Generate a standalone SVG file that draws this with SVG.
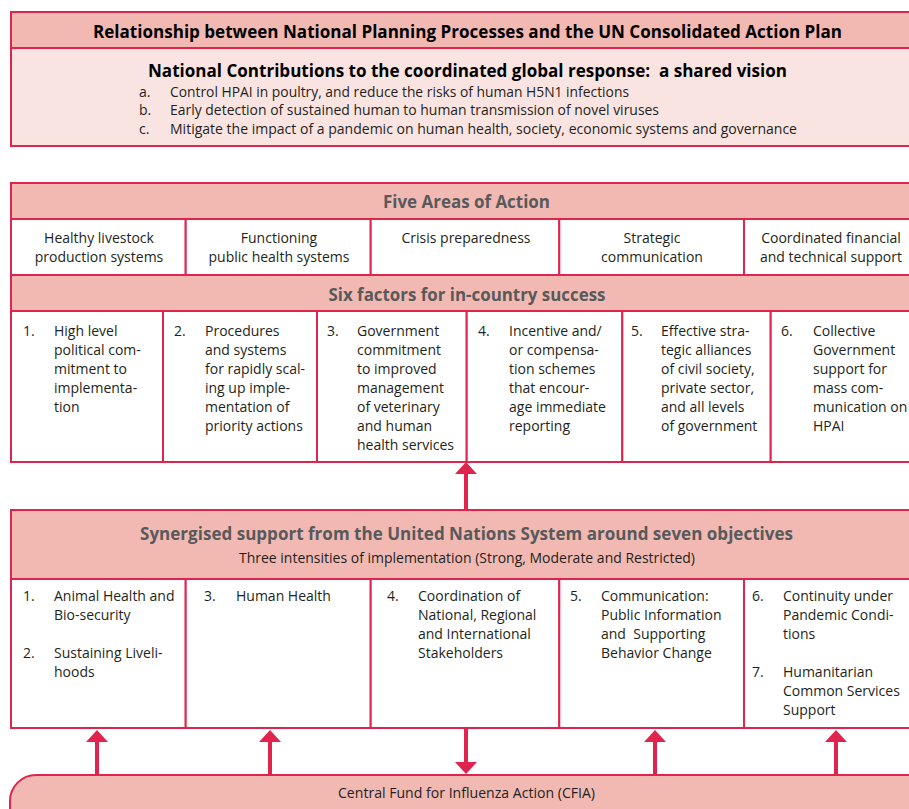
<svg xmlns="http://www.w3.org/2000/svg" width="909" height="809" viewBox="0 0 909 809">
<style>
.bx{stroke:#e0244e;stroke-width:2}
.band{fill:#f2b9b3}
.light{fill:#fae4e2}
.cell{fill:#ffffff}
.t{font-family:"Open Sans","Noto Sans",sans-serif;font-size:14px;fill:#231f20}
.c{text-anchor:middle}
.pre{white-space:pre}
.hb{font-family:"Open Sans","Noto Sans",sans-serif;font-weight:bold;fill:#58595b;font-size:17px;text-anchor:middle}
.kb{font-family:"Open Sans","Noto Sans",sans-serif;font-weight:bold;fill:#000000;text-anchor:middle}
.conn line{stroke:#e0244e;stroke-width:4}
</style>
<defs>
<marker id="ah" viewBox="0 0 12 22" refX="0" refY="11" markerWidth="12" markerHeight="22" markerUnits="userSpaceOnUse" orient="auto">
<path d="M0,0 L12,11 L0,22 z" fill="#e0244e"/>
</marker>
</defs>

<g id="plan-title">
<rect class="bx band" x="11" y="12" width="912" height="36"/>
<text class="kb" x="467.5" y="38" font-size="17" textLength="749" lengthAdjust="spacingAndGlyphs">Relationship between National Planning Processes and the UN Consolidated Action Plan</text>
</g>

<g id="shared-vision">
<rect class="bx light" x="11" y="48" width="912" height="98"/>
<text class="kb pre" x="467.5" y="76.5" font-size="17" textLength="639" lengthAdjust="spacingAndGlyphs">National Contributions to the coordinated global response:  a shared vision</text>
<text class="t" x="139" y="96.5">a.</text>
<text class="t" x="170" y="96.5" textLength="459" lengthAdjust="spacingAndGlyphs">Control HPAI in poultry, and reduce the risks of human H5N1 infections</text>
<text class="t" x="139" y="115">b.</text>
<text class="t" x="170" y="115" textLength="489" lengthAdjust="spacingAndGlyphs">Early detection of sustained human to human transmission of novel viruses</text>
<text class="t" x="139" y="133.5">c.</text>
<text class="t" x="170" y="133.5" textLength="627" lengthAdjust="spacingAndGlyphs">Mitigate the impact of a pandemic on human health, society, economic systems and governance</text>
</g>

<g id="five-areas">
<rect class="bx band" x="11" y="183" width="912" height="36"/>
<text class="hb" x="466.5" y="208" textLength="167" lengthAdjust="spacingAndGlyphs">Five Areas of Action</text>
<rect class="bx cell" x="11" y="219" width="174.7" height="56"/>
<rect class="bx cell" x="185.7" y="219" width="185" height="56"/>
<rect class="bx cell" x="370.7" y="219" width="188.6" height="56"/>
<rect class="bx cell" x="559.3" y="219" width="184.7" height="56"/>
<rect class="bx cell" x="744" y="219" width="179" height="56"/>
<text class="t c" x="99" y="243">Healthy livestock</text>
<text class="t c" x="99" y="262">production systems</text>
<text class="t c" x="279" y="243">Functioning</text>
<text class="t c" x="279" y="262">public health systems</text>
<text class="t c" x="466" y="243">Crisis preparedness</text>
<text class="t c" x="652" y="243">Strategic</text>
<text class="t c" x="652" y="262">communication</text>
<text class="t c" x="831" y="243">Coordinated financial</text>
<text class="t c" x="831" y="262">and technical support</text>
</g>

<g id="six-factors">
<rect class="bx band" x="11" y="275" width="912" height="36"/>
<text class="hb" x="467" y="301" textLength="277" lengthAdjust="spacingAndGlyphs">Six factors for in-country success</text>
<rect class="bx cell" x="11" y="311" width="152" height="151"/>
<rect class="bx cell" x="163" y="311" width="154" height="151"/>
<rect class="bx cell" x="317" y="311" width="149.7" height="151"/>
<rect class="bx cell" x="466.7" y="311" width="155.6" height="151"/>
<rect class="bx cell" x="622.3" y="311" width="148.4" height="151"/>
<rect class="bx cell" x="770.7" y="311" width="152.3" height="151"/>
<text class="t" x="23" y="336">1.</text>
<text class="t" x="54" y="336">High level</text>
<text class="t" x="54" y="355">political com-</text>
<text class="t" x="54" y="374">mitment to</text>
<text class="t" x="54" y="393">implementa-</text>
<text class="t" x="54" y="412">tion</text>
<text class="t" x="174" y="336">2.</text>
<text class="t" x="205" y="336">Procedures</text>
<text class="t" x="205" y="355">and systems</text>
<text class="t" x="205" y="374">for rapidly scal-</text>
<text class="t" x="205" y="393">ing up imple-</text>
<text class="t" x="205" y="412">mentation of</text>
<text class="t" x="205" y="431">priority actions</text>
<text class="t" x="327" y="336">3.</text>
<text class="t" x="357" y="336">Government</text>
<text class="t" x="357" y="355">commitment</text>
<text class="t" x="357" y="374">to improved</text>
<text class="t" x="357" y="393">management</text>
<text class="t" x="357" y="412">of veterinary</text>
<text class="t" x="357" y="431">and human</text>
<text class="t" x="357" y="450">health services</text>
<text class="t" x="478" y="336">4.</text>
<text class="t" x="509" y="336">Incentive and/</text>
<text class="t" x="509" y="355">or compensa-</text>
<text class="t" x="509" y="374">tion schemes</text>
<text class="t" x="509" y="393">that encour-</text>
<text class="t" x="509" y="412">age immediate</text>
<text class="t" x="509" y="431">reporting</text>
<text class="t" x="631" y="336">5.</text>
<text class="t" x="661" y="336">Effective stra-</text>
<text class="t" x="661" y="355">tegic alliances</text>
<text class="t" x="661" y="374">of civil society,</text>
<text class="t" x="661" y="393">private sector,</text>
<text class="t" x="661" y="412">and all levels</text>
<text class="t" x="661" y="431">of government</text>
<text class="t" x="781" y="336">6.</text>
<text class="t" x="813" y="336">Collective</text>
<text class="t" x="813" y="355">Government</text>
<text class="t" x="813" y="374">support for</text>
<text class="t" x="813" y="393">mass com-</text>
<text class="t" x="813" y="412">munication on</text>
<text class="t" x="813" y="431">HPAI</text>
</g>

<g id="un-support">
<rect class="bx band" x="11" y="510" width="912" height="69"/>
<text class="hb" x="466.5" y="539.5" font-size="17.5" textLength="653" lengthAdjust="spacingAndGlyphs">Synergised support from the United Nations System around seven objectives</text>
<text class="t c" x="467" y="563" textLength="456" lengthAdjust="spacingAndGlyphs">Three intensities of implementation (Strong, Moderate and Restricted)</text>
<rect class="bx cell" x="11" y="579" width="174.7" height="149"/>
<rect class="bx cell" x="185.7" y="579" width="185" height="149"/>
<rect class="bx cell" x="370.7" y="579" width="188.6" height="149"/>
<rect class="bx cell" x="559.3" y="579" width="184.7" height="149"/>
<rect class="bx cell" x="744" y="579" width="179" height="149"/>
<text class="t" x="23" y="601">1.</text>
<text class="t" x="54" y="601">Animal Health and</text>
<text class="t" x="54" y="620">Bio-security</text>
<text class="t" x="23" y="658">2.</text>
<text class="t" x="54" y="658">Sustaining Liveli-</text>
<text class="t" x="54" y="677">hoods</text>
<text class="t" x="204" y="601">3.</text>
<text class="t" x="236" y="601">Human Health</text>
<text class="t" x="387" y="601">4.</text>
<text class="t" x="418" y="601">Coordination of</text>
<text class="t" x="418" y="620">National, Regional</text>
<text class="t" x="418" y="639">and International</text>
<text class="t" x="418" y="658">Stakeholders</text>
<text class="t" x="570" y="601">5.</text>
<text class="t" x="601" y="601">Communication:</text>
<text class="t" x="601" y="620">Public Information</text>
<text class="t pre" x="601" y="639">and  Supporting</text>
<text class="t" x="601" y="658">Behavior Change</text>
<text class="t" x="752" y="601">6.</text>
<text class="t" x="783" y="601">Continuity under</text>
<text class="t" x="783" y="620">Pandemic Condi-</text>
<text class="t" x="783" y="639">tions</text>
<text class="t" x="752" y="677">7.</text>
<text class="t" x="783" y="677">Humanitarian</text>
<text class="t" x="783" y="696">Common Services</text>
<text class="t" x="783" y="715">Support</text>
</g>

<g id="cfia">
<rect class="bx band" x="10" y="775" width="930" height="70" rx="26" ry="26"/>
<text class="t c" x="466.5" y="798" textLength="257" lengthAdjust="spacingAndGlyphs">Central Fund for Influenza Action (CFIA)</text>
</g>

<g id="connectors" class="conn">
<line x1="466" y1="509" x2="466" y2="474" marker-end="url(#ah)"/>
<line x1="97" y1="775" x2="97" y2="742" marker-end="url(#ah)"/>
<line x1="270" y1="775" x2="270" y2="742" marker-end="url(#ah)"/>
<line x1="466" y1="729" x2="466" y2="762" marker-end="url(#ah)"/>
<line x1="655" y1="775" x2="655" y2="742" marker-end="url(#ah)"/>
<line x1="836" y1="775" x2="836" y2="742" marker-end="url(#ah)"/>
</g>
</svg>
